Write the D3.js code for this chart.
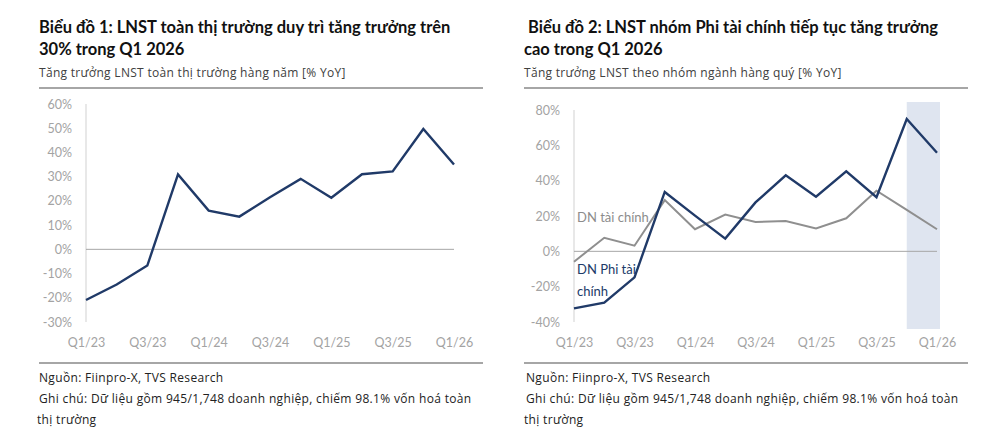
<!DOCTYPE html>
<html>
<head>
<meta charset="utf-8">
<script src="https://cdn.jsdelivr.net/npm/d3@7"></script>
<style>
  body { margin: 0; background: #fff; }
  svg { display: block; font-family: Lato, "Open Sans", sans-serif; }
</style>
</head>
<body>
<div id="chart"></div>
<script>
// quarters Q1/23 .. Q1/26
const quarters = ["Q1/23", "Q2/23", "Q3/23", "Q4/23", "Q1/24", "Q2/24", "Q3/24",
  "Q4/24", "Q1/25", "Q2/25", "Q3/25", "Q4/25", "Q1/26"];
const tickQuarters = ["Q1/23", "Q3/23", "Q1/24", "Q3/24", "Q1/25", "Q3/25", "Q1/26"];

// chart 1: toàn thị trường (% YoY)
const marketGrowth = [-20.9, -14.5, -6.7, 30.9, 16.0, 13.5, 21.5, 29.1, 21.3, 31.0, 32.2, 49.7, 35.0];
const ticks1 = [60, 50, 40, 30, 20, 10, 0, -10, -20, -30];

// chart 2: theo nhóm ngành (% YoY)
const nonFinGrowth = [-32.3, -29.0, -14.7, 33.6, 20.2, 7.2, 27.7, 43.0, 30.9, 45.3, 30.6, 74.9, 55.8];
const finGrowth = [-5.9, 7.7, 3.2, 29.0, 12.5, 20.8, 16.6, 17.2, 13.0, 18.7, 34.3, 23.5, 12.5];
const ticks2 = [80, 60, 40, 20, 0, -20, -40];
const shadedQuarters = ["Q4/25", "Q1/26"];

const titles1 = ["Biểu đồ 1: LNST toàn thị trường duy trì tăng trưởng trên", "30% trong Q1 2026"];
const titles2 = [" Biểu đồ 2: LNST nhóm Phi tài chính tiếp tục tăng trưởng", "cao trong Q1 2026"];
const subtitle1 = "Tăng trưởng LNST toàn thị trường hàng năm [% YoY]";
const subtitle2 = "Tăng trưởng LNST theo nhóm ngành hàng quý [% YoY]";
const footer = ["Nguồn: Fiinpro-X, TVS Research",
  "Ghi chú: Dữ liệu gồm 945/1,748 doanh nghiệp, chiếm 98.1% vốn hoá toàn",
  "thị trường"];

const navy = "#203a68";
const grayLine = "#8f8f8f";
const tickColor = "#a3a3a3";

const svg = d3.select("#chart").append("svg")
  .attr("width", 1000)
  .attr("height", 445);

function panel({ left, axisX, plotRight, y0, y1, domain, ticks, titles, subtitle, series, shade, footX }) {
  const g = svg.append("g");

  // headings
  g.selectAll("text.title")
    .data(titles)
    .join("text")
    .attr("class", "title")
    .attr("x", left)
    .attr("y", (d, i) => 33 + i * 22)
    .attr("font-size", 16.5)
    .attr("font-weight", "bold")
    .attr("fill", "#111")
    .attr("xml:space", "preserve")
    .text((d) => d);

  g.append("text")
    .attr("x", left)
    .attr("y", 77)
    .attr("font-size", 12)
    .attr("letter-spacing", 0.3)
    .attr("font-family", "'Open Sans', sans-serif")
    .attr("fill", "#404040")
    .text(subtitle);

  // separator lines
  g.append("line")
    .attr("x1", left).attr("x2", left + 444)
    .attr("y1", 88).attr("y2", 88)
    .attr("stroke", "#a6a6a6").attr("stroke-width", 2);
  g.append("line")
    .attr("x1", left).attr("x2", left + 444)
    .attr("y1", 363).attr("y2", 363)
    .attr("stroke", "#a6a6a6").attr("stroke-width", 2);

  const x = d3.scalePoint().domain(quarters).range([axisX, plotRight]);
  const y = d3.scaleLinear().domain(domain).range([y1, y0]);

  if (shade) {
    g.append("rect")
      .attr("x", x(shade[0]))
      .attr("y", y(domain[1]) - 8)
      .attr("width", x(shade[1]) - x(shade[0]) + 3)
      .attr("height", y(domain[0]) - y(domain[1]) + 15)
      .attr("fill", "#dfe5f0");
  }

  // y axis labels
  const yAxis = d3.axisLeft(y).tickValues(ticks).tickSize(0).tickPadding(14)
    .tickFormat((d) => d + "%");
  g.append("g")
    .attr("transform", `translate(${axisX},0)`)
    .call(yAxis)
    .call((s) => s.select(".domain").remove())
    .call((s) => s.selectAll("text")
      .attr("fill", tickColor)
      .attr("font-size", 12.5)
      .attr("font-family", "Lato, sans-serif"));

  g.append("line")
    .attr("x1", axisX).attr("x2", axisX)
    .attr("y1", y(domain[1])).attr("y2", y(domain[0]))
    .attr("stroke", "#d9d9d9").attr("stroke-width", 1.2);

  // zero line
  g.append("line")
    .attr("x1", axisX).attr("x2", plotRight)
    .attr("y1", y(0)).attr("y2", y(0))
    .attr("stroke", "#a6a6a6").attr("stroke-width", 1);

  // x axis labels
  const xAxis = d3.axisBottom(x).tickValues(tickQuarters).tickSize(0).tickPadding(0);
  g.append("g")
    .attr("transform", `translate(0,${y(domain[0]) + 25})`)
    .call(xAxis)
    .call((s) => s.select(".domain").remove())
    .call((s) => s.selectAll("text")
      .attr("fill", tickColor)
      .attr("font-size", 12.5)
      .attr("font-family", "Lato, sans-serif")
      .attr("dy", 0));

  const line = d3.line()
    .x((d, i) => x(quarters[i]))
    .y((d) => y(d));

  series.forEach((s) => {
    g.append("path")
      .datum(s.values)
      .attr("fill", "none")
      .attr("stroke", s.color)
      .attr("stroke-width", s.width)
      .attr("stroke-linejoin", "miter")
      .attr("d", line);
    if (s.label) {
      g.append("text")
        .attr("font-size", 13)
        .attr("fill", s.labelColor)
        .selectAll("tspan")
        .data(s.label)
        .join("tspan")
        .attr("x", s.labelX)
        .attr("y", (d, i) => s.labelY + i * 22)
        .text((d) => d);
    }
  });

  // footer
  g.selectAll("text.foot")
    .data(footer)
    .join("text")
    .attr("class", "foot")
    .attr("x", (d, i) => footX + (i === 2 ? -2 : 0))
    .attr("y", (d, i) => 382 + i * 21)
    .attr("font-size", 12)
    .attr("letter-spacing", 0.33)
    .attr("font-family", "'Open Sans', sans-serif")
    .attr("fill", "#222")
    .text((d) => d);
}

panel({
  left: 39, axisX: 86, plotRight: 454, y0: 104, y1: 322,
  domain: [-30, 60], ticks: ticks1,
  titles: titles1, subtitle: subtitle1,
  series: [{ values: marketGrowth, color: navy, width: 2.4 }],
  footX: 39
});

panel({
  left: 524, axisX: 574, plotRight: 937, y0: 110, y1: 322,
  domain: [-40, 80], ticks: ticks2,
  titles: titles2, subtitle: subtitle2,
  shade: shadedQuarters,
  series: [
    { values: finGrowth, color: grayLine, width: 2, label: ["DN tài chính"], labelX: 577, labelY: 222, labelColor: "#8c8c8c" },
    { values: nonFinGrowth, color: navy, width: 2.4, label: ["DN Phi tài", "chính"], labelX: 577, labelY: 274, labelColor: navy }
  ],
  footX: 526
});
</script>
</body>
</html>
